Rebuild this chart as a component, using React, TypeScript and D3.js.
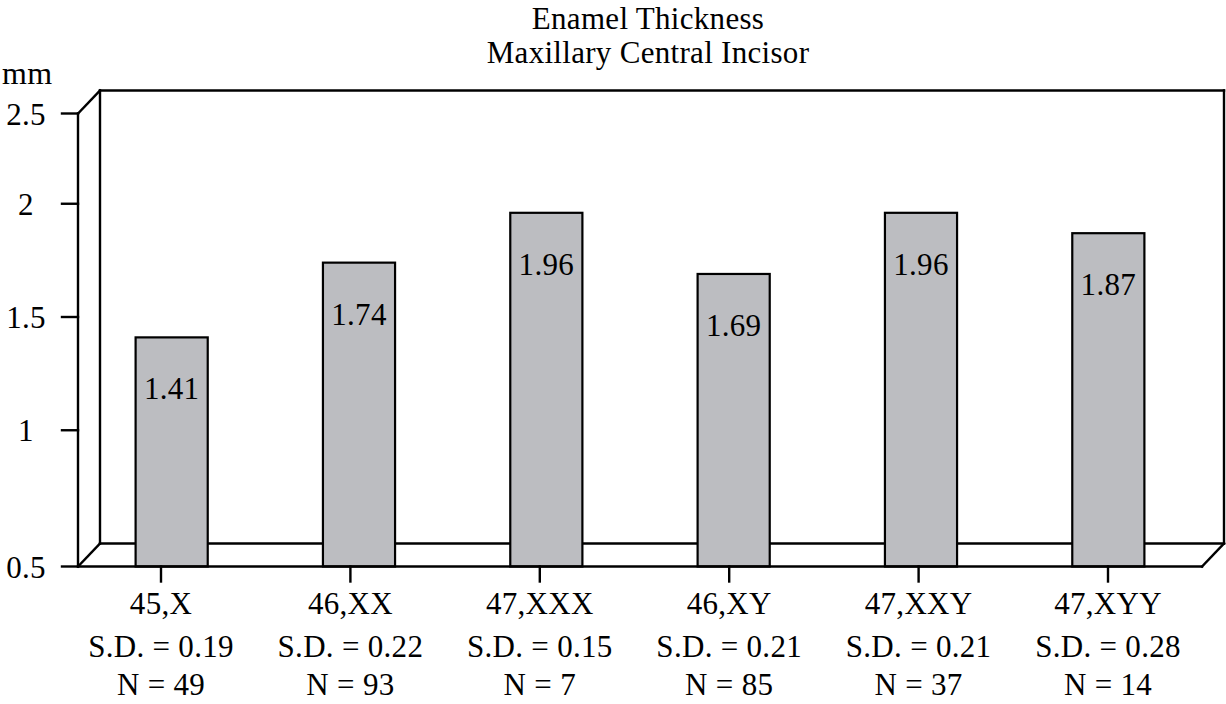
import * as d3 from "d3"
import React, { useEffect, useRef } from "react"

const categories = ["45,X", "46,XX", "47,XXX", "46,XY", "47,XXY", "47,XYY"]
const means = [1.41, 1.74, 1.96, 1.69, 1.96, 1.87]
const sds = ["0.19", "0.22", "0.15", "0.21", "0.21", "0.28"]
const counts = [49, 93, 7, 85, 37, 14]
const yTicks = [2.5, 2, 1.5, 1, 0.5]
const titleLines = ["Enamel Thickness", "Maxillary Central Incisor"]

const App = () => {
    const svgRef = useRef(null)

    useEffect(() => {
        const width = 1226
        const height = 704
        const font = "'Liberation Serif', 'Times New Roman', serif"
        const depthX = 22
        const depthY = 23
        const frontLeft = 78
        const frontRight = 1202

        const svg = d3.select(svgRef.current)
            .attr("width", width)
            .attr("height", height)
            .style("background", "#fff")

        svg.selectAll("*").remove()

        // value scale lives on the back wall
        const y = d3.scaleLinear().domain([0.5, 2.5]).range([543.5, 90.5])

        const x = d3.scaleBand()
            .domain(categories)
            .range([frontLeft, frontRight])
            .paddingInner(0.615)
            .paddingOuter(0.3075)

        // the category ticks sit a little off the bars in the original
        const xTick = d3.scalePoint()
            .domain(categories)
            .range([frontLeft + 83, frontRight - 94])

        const backTop = y(2.5)
        const backBottom = y(0.5)
        const frontTop = backTop + depthY
        const frontBottom = backBottom + depthY
        const backLeft = frontLeft + depthX
        const backRight = frontRight + depthX

        const line = (x1, y1, x2, y2) => svg.append("line")
            .attr("x1", x1).attr("y1", y1).attr("x2", x2).attr("y2", y2)
            .attr("stroke", "#000")
            .attr("stroke-width", 2.4)
            .attr("stroke-linecap", "square")

        const text = (s, tx, ty, size = 31, anchor = "middle") => svg.append("text")
            .attr("x", tx)
            .attr("y", ty)
            .attr("text-anchor", anchor)
            .attr("font-family", font)
            .attr("font-size", size)
            .attr("letter-spacing", 0.3)
            .attr("fill", "#000")
            .text(s)

        // box
        line(backLeft, backTop, backRight, backTop)
        line(backRight, backTop, backRight, backBottom)
        line(backLeft, backTop, backLeft, backBottom)
        line(backLeft, backBottom, backRight, backBottom)
        line(frontLeft, frontTop, backLeft, backTop)
        line(frontLeft, frontBottom, backLeft, backBottom)
        line(frontRight, frontBottom, backRight, backBottom)
        line(frontLeft, frontTop, frontLeft, frontBottom)

        // bars
        svg.selectAll(".bar")
            .data(means)
            .join("rect")
            .attr("class", "bar")
            .attr("x", (d, i) => x(categories[i]))
            .attr("y", (d) => y(d))
            .attr("width", x.bandwidth())
            .attr("height", (d) => frontBottom - y(d))
            .attr("fill", "#bcbdc1")
            .attr("stroke", "#000")
            .attr("stroke-width", 2.2)

        line(frontLeft, frontBottom, frontRight, frontBottom)

        means.forEach((d, i) => {
            text(d.toFixed(2), x(categories[i]) + x.bandwidth() / 2, y(d) + 62)
        })

        // y ticks: ends on the front corners, the rest on the value scale
        yTicks.forEach((t) => {
            let ty = y(t)
            if (t === 2.5) ty = frontTop
            if (t === 0.5) ty = frontBottom
            line(62, ty, frontLeft, ty)
            text(String(t), 26, ty + 11)
        })

        text("mm", 2, 84, 32, "start")

        // category ticks and labels
        categories.forEach((c, i) => {
            const cx = xTick(c)
            line(cx, frontBottom, cx, frontBottom + 15)
            const lines = [c, `S.D. = ${sds[i]}`, `N = ${counts[i]}`]
            const baselines = [614, 657, 695]
            lines.forEach((s, j) => text(s, cx, baselines[j]))
        })

        titleLines.forEach((s, j) => text(s, 648, 29 + j * 34))
    }, [])

    return <svg ref={svgRef} style={{ position: "absolute", left: 0, top: 0 }}></svg>
}

export default App
